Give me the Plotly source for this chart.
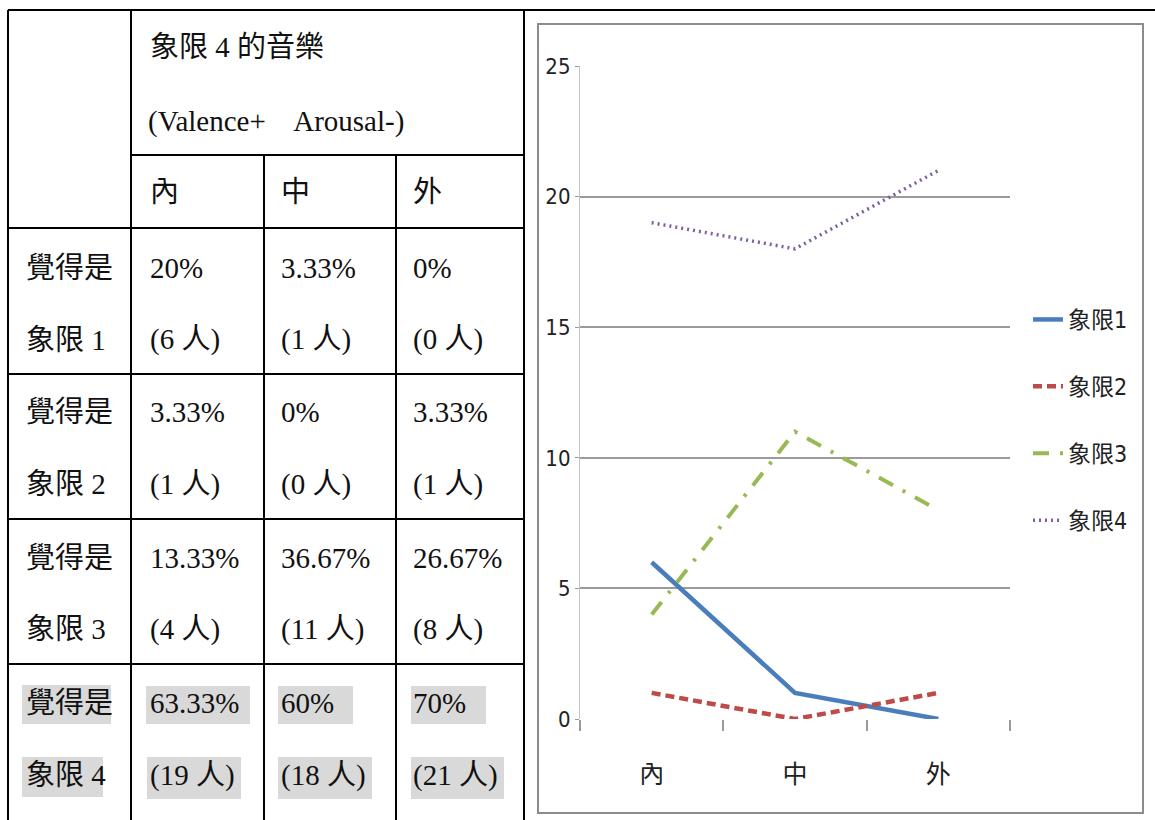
import plotly.graph_objects as go

# ---- data ----
categories = ["內", "中", "外"]
series_names = ["象限1", "象限2", "象限3", "象限4"]
q1_counts = [6, 1, 0]
q2_counts = [1, 0, 1]
q3_counts = [4, 11, 8]
q4_counts = [19, 18, 21]
respondents = 30
y_ticks = [0, 5, 10, 15, 20, 25]

header_title = "象限 4 的音樂"
header_sub = "(Valence+    Arousal-)"
row_prefix = "覺得是"
row_labels = ["象限 1", "象限 2", "象限 3", "象限 4"]

all_counts = [q1_counts, q2_counts, q3_counts, q4_counts]

# ---- page geometry (pixels -> paper) ----
W, H = 1155, 820


def px(x):
    return x / W


def py(y):
    return 1 - y / H


def pct_text(c):
    s = f"{c / respondents * 100:.2f}".rstrip("0").rstrip(".")
    return s + "%"


fig = go.Figure()

styles = [
    dict(color="#4A7EBB", width=4.5, dash="solid"),
    dict(color="#BE4B48", width=4.5, dash="9px,5px"),
    dict(color="#98B954", width=4, dash="16px,11px,3px,11px"),
    dict(color="#7D60A0", width=3.5, dash="2px,4px"),
]

for name, vals, st in zip(series_names, all_counts, styles):
    fig.add_trace(go.Scatter(
        x=categories, y=vals, name=name, mode="lines",
        line=st, legendgroup=name,
    ))

chart_font = "Liberation Sans Narrow, DejaVu Sans Condensed, Noto Sans CJK TC, sans-serif"
table_font = "Liberation Serif, Noto Sans CJK TC, serif"

fig.update_layout(
    width=W, height=H,
    autosize=False,
    margin=dict(l=0, r=0, t=0, b=0, pad=0, autoexpand=False),
    paper_bgcolor="white",
    plot_bgcolor="rgba(0,0,0,0)",
    showlegend=True,
    legend=dict(
        x=px(1028), y=py(420), xanchor="left", yanchor="middle",
        font=dict(family=chart_font, size=23, color="#222"),
        tracegroupgap=34, bgcolor="rgba(0,0,0,0)",
    ),
    xaxis=dict(
        domain=[px(580), px(1010)],
        type="category", range=[-0.5, 2.5],
        showgrid=False, showline=False, zeroline=False,
        ticks="outside", tickson="boundaries", ticklen=11, tickcolor="#9a9a9a",
        tickwidth=1.5,
        tickfont=dict(family=chart_font, size=25, color="#222"),
        ticklabelstandoff=38,
        automargin=False,
        anchor="y",
    ),
    yaxis=dict(
        domain=[py(719), py(66)],
        range=[0, 25], tickvals=y_ticks,
        showgrid=True, gridcolor="#9a9a9a", gridwidth=1.6,
        showline=True, linecolor="#c4c4c4", linewidth=1.2,
        zeroline=False,
        ticks="outside", ticklen=4, tickcolor="#9a9a9a",
        tickfont=dict(family=chart_font, size=22, color="#222"),
        automargin=False,
        anchor="x",
    ),
)

shapes = []

# chart frame
shapes.append(dict(type="rect", xref="paper", yref="paper",
                   x0=px(538), x1=px(1143), y0=py(813), y1=py(24),
                   line=dict(color="#8c8c8c", width=2), layer="below"))

# table grid
blk = dict(color="black", width=2)


def hline(x0, x1, y):
    shapes.append(dict(type="line", xref="paper", yref="paper",
                       x0=px(x0), x1=px(x1), y0=py(y), y1=py(y), line=blk))


def vline(x, y0, y1):
    shapes.append(dict(type="line", xref="paper", yref="paper",
                       x0=px(x), x1=px(x), y0=py(y0), y1=py(y1), line=blk))


hline(8, 1155, 10)
hline(131, 524, 155)
for yy in [228, 374, 519, 664]:
    hline(8, 524, yy)
vline(8, 10, 820)
vline(131, 10, 820)
vline(264, 155, 820)
vline(396, 155, 820)
vline(524, 10, 820)

# grey highlight behind the last row's text
hl = [
    (22, 111, 685, 724), (22, 103, 757, 797),
    (146, 250, 686, 724), (147, 241, 757, 799),
    (278, 353, 686, 724), (278, 372, 757, 799),
    (411, 486, 686, 724), (411, 504, 757, 799),
]
for x0, x1, y0, y1 in hl:
    shapes.append(dict(type="rect", xref="paper", yref="paper",
                       x0=px(x0), x1=px(x1), y0=py(y1), y1=py(y0),
                       fillcolor="#d9d9d9", line=dict(width=0), layer="below"))

fig.update_layout(shapes=shapes)

annotations = []


def txt(x, y, s):
    annotations.append(dict(
        x=px(x), y=py(y), xref="paper", yref="paper", text=s,
        showarrow=False, xanchor="left", yanchor="middle",
        font=dict(family=table_font, size=29, color="#111"),
    ))


txt(148, 47, header_title)
txt(146, 121, header_sub)
col_text_x = [148, 279, 411]
for cx, cat in zip(col_text_x, categories):
    txt(cx, 192, cat)

line1_y = [268, 412, 558, 703]
line2_y = [340, 484, 629, 775]
for r in range(4):
    txt(24, line1_y[r], row_prefix)
    txt(24, line2_y[r], row_labels[r])
    for c in range(3):
        cnt = all_counts[r][c]
        txt(col_text_x[c], line1_y[r], pct_text(cnt))
        txt(col_text_x[c], line2_y[r], f"({cnt} 人)")

fig.update_layout(annotations=annotations)

fig.write_html("out.html")
